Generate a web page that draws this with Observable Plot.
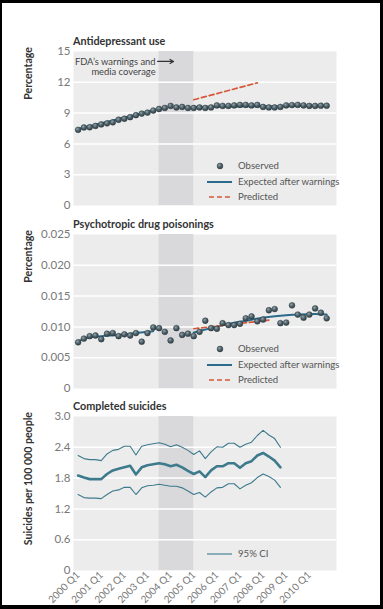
<!DOCTYPE html>
<html><head><meta charset="utf-8">
<script src="https://cdn.jsdelivr.net/npm/d3@7"></script>
<script src="https://cdn.jsdelivr.net/npm/@observablehq/plot@0.6"></script>
<style>
html,body{margin:0;padding:0;background:#000;width:383px;height:609px;overflow:hidden}
#root{position:relative;width:383px;height:609px;background:#000}
#paper{position:absolute;left:2px;top:3px;width:378px;height:602px;background:#fff}
#overlay{position:absolute;left:0;top:0;pointer-events:none}
svg text{font-family:Lato,"Liberation Sans",sans-serif}
</style></head><body>
<svg width="0" height="0" style="position:absolute"><defs>
<radialGradient id="dotGrad" cx="0.38" cy="0.34" r="0.72">
<stop offset="0" stop-color="#93a6ae"/><stop offset="0.5" stop-color="#4f6168"/><stop offset="1" stop-color="#2e3c42"/>
</radialGradient></defs></svg>
<div id="root"><div id="paper"></div></div>
<script>
// ---------- data ----------
const years = ["2000","2001","2002","2003","2004","2005","2006","2007","2008","2009","2010"];
const quarters = years.flatMap(y => ["Q1","Q2","Q3","Q4"].map(q => `${y} ${q}`)); // 2000 Q1 .. 2010 Q4
const xTickLabels = ["2000 Q1","2001 Q1","2002 Q1","2003 Q1","2004 Q1","2005 Q1","2006 Q1","2007 Q1","2008 Q1","2009 Q1","2010 Q1"];
const warningPeriod = ["2003 Q3","2005 Q1"]; // shaded band

const panelTitles = ["Antidepressant use","Psychotropic drug poisonings","Completed suicides"];
const yLabels = ["Percentage","Percentage","Suicides per 100 000 people"];
const legendLabels = ["Observed","Expected after warnings","Predicted"];
const ciLegendLabel = "95% CI";

// Antidepressant use (%), 2000 Q1 .. 2010 Q4
const antiObserved = [7.37,7.6,7.62,7.75,7.9,8.0,8.1,8.35,8.45,8.6,8.8,8.95,9.05,9.25,9.4,9.5,9.7,9.55,9.6,9.5,
  9.5,9.55,9.5,9.55,9.75,9.7,9.7,9.75,9.8,9.8,9.75,9.8,9.6,9.55,9.55,9.6,9.75,9.78,9.8,9.75,9.7,9.7,9.72,9.72];
const antiExpectedPre = {q:["2000 Q1","2003 Q2"], v:[7.45,9.25]};
const antiExpectedPost = {q:["2005 Q1","2010 Q4"], v:[9.6,9.72]};
const antiPredicted = {q:["2005 Q1","2007 Q4"], v:[10.3,11.95]};
const antiYTicks = [0,3,6,9,12,15];

// Psychotropic drug poisonings (%)
const psychObserved = [0.0075,0.0081,0.0085,0.0086,0.0080,0.0089,0.0090,0.0085,0.0088,0.0086,0.0090,0.0076,0.0090,0.0099,0.0098,0.0092,
  0.0078,0.0098,0.0087,0.0089,0.0085,0.0092,0.0110,0.0098,0.0097,0.0106,0.0103,0.0103,0.0105,0.0114,0.0117,0.0109,0.0112,0.0127,
  0.0129,0.0106,0.0107,0.0135,0.0120,0.0115,0.0120,0.0130,0.0123,0.0114];
const psychExpectedPre = {q:["2000 Q1","2000 Q3","2001 Q1","2001 Q4","2002 Q3","2003 Q2"], v:[0.0077,0.0083,0.0085,0.0087,0.0090,0.0093]};
const psychExpectedPost = {q:["2005 Q1","2005 Q4","2006 Q3","2007 Q2","2008 Q1","2008 Q4","2009 Q3","2010 Q2","2010 Q4"],
  v:[0.0091,0.0098,0.0105,0.0110,0.0115,0.0118,0.0120,0.0121,0.0120]};
const psychPredicted = {q:["2005 Q1","2008 Q2"], v:[0.0097,0.0111]};
const psychYTicks = [0,0.005,0.010,0.015,0.020,0.025];

// Completed suicides per 100 000, 2000 Q1 .. 2008 Q4
const suicideRate = [1.85,1.81,1.78,1.78,1.78,1.88,1.95,1.98,2.01,2.04,1.87,2.01,2.05,2.07,2.09,2.07,2.03,2.06,
  2.01,1.94,1.88,1.93,1.82,1.95,2.03,2.03,2.09,2.09,2.00,2.09,2.13,2.24,2.29,2.22,2.14,2.01];
const suicideUpper = [2.24,2.18,2.16,2.16,2.14,2.27,2.34,2.36,2.42,2.42,2.25,2.42,2.45,2.47,2.49,2.46,2.41,2.45,
  2.40,2.34,2.26,2.33,2.18,2.31,2.41,2.40,2.48,2.48,2.40,2.46,2.50,2.63,2.73,2.64,2.57,2.40];
const suicideLower = [1.48,1.42,1.41,1.41,1.40,1.48,1.55,1.57,1.62,1.62,1.48,1.61,1.65,1.66,1.68,1.66,1.64,1.64,
  1.61,1.55,1.48,1.52,1.43,1.53,1.61,1.62,1.69,1.69,1.59,1.66,1.71,1.81,1.88,1.83,1.76,1.62];
const suicideYTicks = [0,0.6,1.2,1.8,2.4,3.0];

// annotation (quarter position, value)
const annotation = [{q: 13.4, v: 14.42, text: "FDA\u2019s warnings and\nmedia coverage"}];
const annotationArrow = [{q1: 13.75, q2: 16.5, v: 14.03}];

// ---------- helpers ----------
const qi = label => quarters.indexOf(label);
const series = (labels, values) => values.map((v, i) => ({q: qi(labels[i]), v}));
const byIndex = values => values.map((v, i) => ({q: i, v}));
const band = [{start: qi(warningPeriod[0]), end: qi(warningPeriod[1])}];

const C = {bg:"#ececec", band:"#d9d9dc", blue:"#2b6b8b", red:"#d6583b", teal:"#3d7a8c", text:"#333"};
const root = document.getElementById("root");
const PLOT_H = 154, MT = 8;
const panelTops = [51, 234, 416];

function panel(top, yDomain, yTicks, yFmt, marks, mb = 8) {
  const chart = Plot.plot({
    width: 383, height: MT + PLOT_H + mb,
    marginLeft: 73, marginRight: 47, marginTop: MT, marginBottom: mb,
    style: {fontFamily: "Lato, 'Liberation Sans', sans-serif", fontSize: "11.5px", color: "#787878", background: "transparent", overflow: "visible"},
    x: {domain: [-0.8, 44.7], axis: null},
    y: {domain: yDomain, axis: null},
    marks: [
      Plot.frame({fill: C.bg, stroke: "none"}),
      Plot.rect(band, {x1: "start", x2: "end", y1: yDomain[0], y2: yDomain[1], fill: C.band}),
      Plot.gridY(yTicks.filter(t => t > yDomain[0] && t < yDomain[1]), {stroke: "#fff", strokeOpacity: 1, strokeWidth: 1.5}),
      Plot.axisY(yTicks, {tickSize: 0, tickPadding: 3, tickFormat: yFmt, label: null}),
      ...marks
    ]
  });
  chart.style.position = "absolute";
  chart.style.left = "0px";
  chart.style.top = (top - MT) + "px";
  root.appendChild(chart);
}

const dotOpts = {x: "q", y: "v", r: 2.9, fill: "url(#dotGrad)", stroke: "#2b393f", strokeWidth: 0.5};

// Panel 1
panel(panelTops[0], [0, 15], antiYTicks, d => String(d), [
  Plot.line(series(antiExpectedPre.q, antiExpectedPre.v), {x: "q", y: "v", stroke: C.blue, strokeWidth: 2}),
  Plot.line(series(antiExpectedPost.q, antiExpectedPost.v), {x: "q", y: "v", stroke: C.blue, strokeWidth: 2}),
  Plot.line(series(antiPredicted.q, antiPredicted.v), {x: "q", y: "v", stroke: C.red, strokeWidth: 1.7, strokeDasharray: "5,3"}),
  Plot.dot(byIndex(antiObserved), dotOpts),
  Plot.text(annotation, {x: "q", y: "v", text: "text", textAnchor: "end", lineAnchor: "top", fontSize: 9.4, lineHeight: 1.12, fill: "#444"}),
  Plot.arrow(annotationArrow, {x1: "q1", x2: "q2", y1: "v", y2: "v", stroke: "#333", strokeWidth: 1.2, headLength: 5})
]);

// Panel 2
panel(panelTops[1], [0, 0.025], psychYTicks, d => d === 0 ? "0" : d.toFixed(3), [
  Plot.line(series(psychExpectedPre.q, psychExpectedPre.v), {x: "q", y: "v", stroke: C.blue, strokeWidth: 2, curve: "monotone-x"}),
  Plot.line(series(psychExpectedPost.q, psychExpectedPost.v), {x: "q", y: "v", stroke: C.blue, strokeWidth: 2, curve: "monotone-x"}),
  Plot.line(series(psychPredicted.q, psychPredicted.v), {x: "q", y: "v", stroke: C.red, strokeWidth: 1.7, strokeDasharray: "5,3"}),
  Plot.dot(byIndex(psychObserved), dotOpts)
]);

// Panel 3
panel(panelTops[2], [0, 3], suicideYTicks, d => d === 0 ? "0" : d.toFixed(1), [
  Plot.line(byIndex(suicideUpper), {x: "q", y: "v", stroke: C.teal, strokeWidth: 1.1}),
  Plot.line(byIndex(suicideLower), {x: "q", y: "v", stroke: C.teal, strokeWidth: 1.1}),
  Plot.line(byIndex(suicideRate), {x: "q", y: "v", stroke: C.teal, strokeWidth: 2.6}),
  Plot.axisX(xTickLabels.map(qi), {tickSize: 0, tickPadding: 3, tickRotate: -45, tickFormat: i => quarters[i], label: null, fontSize: 10, fill: "#777"})
], 36);

// ---------- overlay: titles, axis labels, legends ----------
const ov = d3.select(root).append("svg").attr("id", "overlay").attr("width", 383).attr("height", 609);
panelTops.forEach((top, i) => {
  ov.append("text").attr("x", 73).attr("y", top - 6).attr("font-size", 10.8).attr("font-weight", 700)
    .attr("fill", C.text).text(panelTitles[i]);
  ov.append("text").attr("transform", `translate(32,${top - 4}) rotate(-90)`).attr("text-anchor", "end")
    .attr("font-size", 10.6).attr("font-weight", 700).attr("fill", C.text).text(yLabels[i]);
});
const legText = (x, y, t) => ov.append("text").attr("x", x).attr("y", y + 3.4).attr("font-size", 9.6).attr("fill", "#555").text(t);
[panelTops[0], panelTops[1]].forEach(top => {
  const y0 = top + 115, y1 = top + 131, y2 = top + 146;
  ov.append("circle").attr("cx", 220).attr("cy", y0).attr("r", 2.9).attr("fill", "url(#dotGrad)").attr("stroke", "#2b393f").attr("stroke-width", 0.5);
  legText(238, y0, legendLabels[0]);
  ov.append("line").attr("x1", 207).attr("x2", 232).attr("y1", y1).attr("y2", y1).attr("stroke", C.blue).attr("stroke-width", 2);
  legText(238, y1, legendLabels[1]);
  ov.append("line").attr("x1", 209).attr("x2", 232).attr("y1", y2).attr("y2", y2).attr("stroke", C.red).attr("stroke-width", 1.7).attr("stroke-dasharray", "5,3");
  legText(238, y2, legendLabels[2]);
});
{
  const y = panelTops[2] + 138;
  ov.append("line").attr("x1", 207).attr("x2", 232).attr("y1", y).attr("y2", y).attr("stroke", C.teal).attr("stroke-width", 1.1);
  legText(238, y, ciLegendLabel);
}
</script>
</body></html>
